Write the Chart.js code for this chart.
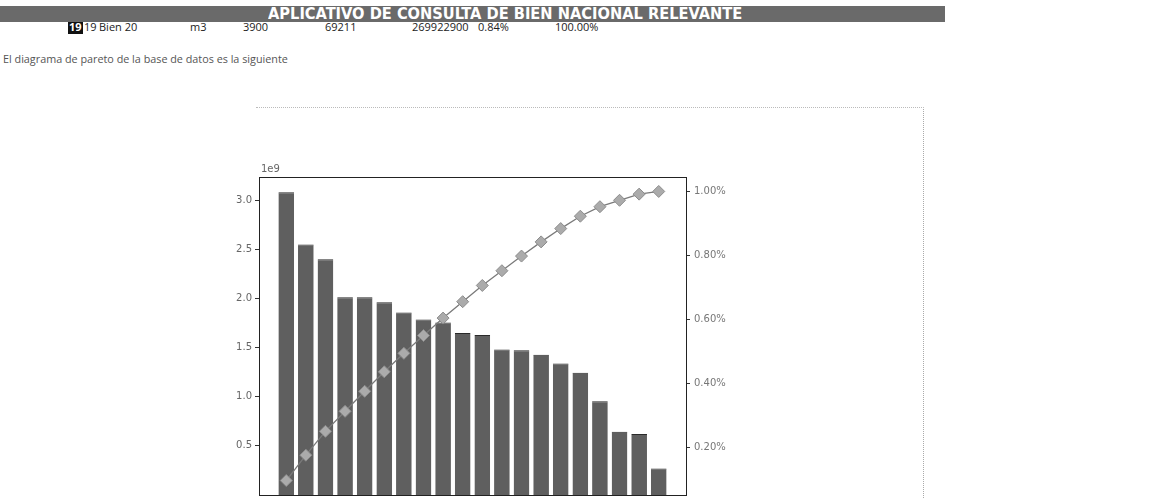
<!DOCTYPE html>
<html>
  <head>
    <meta charset="utf-8" />
    <title>Bien Nacional Relevante</title>
    <style>
      body {
        margin: 0;
        width: 1175px;
        height: 498px;
        overflow: hidden;
        background: #fff;
        font-family: "Open Sans", "Noto Sans", sans-serif;
        position: relative;
      }
      .barra {
        position: absolute;
        left: 0;
        top: 6px;
        width: 945px;
        height: 16px;
        background: #6a6a6a;
        z-index: 2;
      }
      .barra span {
        position: absolute;
        left: 268px;
        top: 0;
        line-height: 17px;
        color: #fff;
        font-family: "Liberation Sans Narrow", "DejaVu Sans Condensed", sans-serif;
        font-weight: bold;
        font-size: 15px;
        white-space: nowrap;
        transform-origin: left center;
      }
      .fila span {
        position: absolute;
        top: 19px;
        font-size: 11px;
        line-height: 15px;
        color: #222;
        white-space: nowrap;
      }
      .fila .idx {
        background: #111;
        color: #fff;
        font-weight: bold;
        padding: 0 1px;
      }
      .texto {
        position: absolute;
        left: 3px;
        top: 51px;
        font-size: 10.8px;
        color: #555;
        white-space: nowrap;
      }
      .marco {
        position: absolute;
        left: 256px;
        top: 107px;
        width: 667px;
        height: 400px;
        border-top: 1px dotted #bbb;
        border-right: 1px dotted #aaa;
      }
      #pareto {
        position: absolute;
        left: 200px;
        top: 150px;
      }
    </style>
  </head>
  <body>
    <div class="barra"><span id="titulo">APLICATIVO DE CONSULTA DE BIEN NACIONAL RELEVANTE</span></div>
    <div class="fila">
      <span class="idx" style="left: 68px">19</span>
      <span style="left: 84px">19</span>
      <span style="left: 99px">Bien 20</span>
      <span style="left: 190px">m3</span>
      <span style="left: 243px">3900</span>
      <span style="left: 325px">69211</span>
      <span style="left: 412px">269922900</span>
      <span style="left: 478px">0.84%</span>
      <span style="left: 555px">100.00%</span>
    </div>
    <div class="texto">El diagrama de pareto de la base de datos es la siguiente</div>
    <div class="marco"></div>
    <canvas id="pareto" width="580" height="360"></canvas>

    <script src="https://cdn.jsdelivr.net/npm/chart.js"></script>
    <script>
      // Bienes ordenados de mayor a menor valor total (cantidad x precio)
      var bienes = [
        "Bien 1", "Bien 2", "Bien 3", "Bien 4", "Bien 5",
        "Bien 6", "Bien 7", "Bien 8", "Bien 9", "Bien 10",
        "Bien 11", "Bien 12", "Bien 13", "Bien 14", "Bien 15",
        "Bien 16", "Bien 17", "Bien 18", "Bien 19", "Bien 20",
      ];

      var valorTotal = [
        3.082e9, 2.548e9, 2.398e9, 2.012e9, 2.012e9,
        1.961e9, 1.857e9, 1.786e9, 1.755e9, 1.649e9,
        1.629e9, 1.481e9, 1.474e9, 1.426e9, 1.338e9,
        1.243e9, 0.955e9, 0.643e9, 0.62e9, 269922900,
      ];

      // Porcentaje acumulado (fraccion 0-1)
      var acumulado = [
        0.0959, 0.1752, 0.2498, 0.3124, 0.375,
        0.436, 0.4938, 0.5494, 0.604, 0.6553,
        0.706, 0.7521, 0.7979, 0.8423, 0.8839,
        0.9226, 0.9523, 0.9723, 0.9916, 1.0,
      ];

      var ticksValor = [0.5e9, 1.0e9, 1.5e9, 2.0e9, 2.5e9, 3.0e9];
      var ticksAcum = [0.2, 0.4, 0.6, 0.8, 1.0];

      // ajustar el titulo al ancho de la barra
      var titulo = document.getElementById("titulo");
      titulo.style.transform = "scaleX(" + 474 / titulo.offsetWidth + ")";

      // margenes al estilo matplotlib
      var maxValor = Math.max.apply(null, valorTotal) * 1.05;
      var minAcum = acumulado[0] - 0.05 * (1 - acumulado[0]);
      var maxAcum = 1 + 0.05 * (1 - acumulado[0]);
      var n = bienes.length;
      var margenX = 0.05 * (n - 1 + 0.8);

      var fuente = { family: "DejaVu Sans", size: 10 };

      var marco = {
        id: "marco",
        afterDraw: function (chart) {
          var ctx = chart.ctx;
          var a = chart.chartArea;
          ctx.save();
          ctx.strokeStyle = "#222";
          ctx.lineWidth = 1;
          ctx.strokeRect(a.left + 0.5, a.top + 0.5, a.right - a.left, a.bottom - a.top);
          ctx.fillStyle = "#666";
          ctx.font = "10px 'DejaVu Sans'";
          ctx.textBaseline = "bottom";
          ctx.fillText("1e9", a.left + 2, a.top - 3);
          ctx.restore();
        },
      };

      new Chart(document.getElementById("pareto"), {
        type: "bar",
        data: {
          datasets: [
            {
              type: "line",
              label: "Acumulado",
              data: acumulado.map(function (v, i) {
                return { x: i, y: v };
              }),
              yAxisID: "y1",
              borderColor: "#7a7a7a",
              borderWidth: 1.3,
              pointStyle: "rectRot",
              pointRadius: 6,
              pointBackgroundColor: "#ababab",
              pointBorderColor: "#8c8c8c",
              pointBorderWidth: 1,
              order: 0,
            },
            {
              label: "Valor total",
              data: valorTotal.map(function (v, i) {
                return { x: i, y: v };
              }),
              yAxisID: "y",
              backgroundColor: "#5f5f5f",
              borderColor: "#2a2a2a",
              borderWidth: { top: 1, left: 0, right: 0, bottom: 0 },
              barPercentage: 0.8,
              categoryPercentage: 1.0,
              order: 1,
            },
          ],
        },
        options: {
          responsive: false,
          animation: false,
          layout: { padding: { top: 27, left: 0, right: 0, bottom: 0 } },
          plugins: { legend: { display: false }, tooltip: { enabled: false } },
          scales: {
            x: {
              type: "linear",
              offset: false,
              min: -0.4 - margenX,
              max: n - 1 + 0.4 + margenX,
              ticks: { display: false },
              grid: { display: false },
              border: { display: false },
              afterFit: function (axis) {
                axis.height = 15;
              },
            },
            y: {
              position: "left",
              min: 0,
              max: maxValor,
              afterBuildTicks: function (axis) {
                axis.ticks = ticksValor.map(function (v) {
                  return { value: v };
                });
              },
              ticks: {
                font: fuente,
                color: "#666",
                padding: 3,
                callback: function (v) {
                  return (v / 1e9).toFixed(1);
                },
              },
              grid: {
                drawOnChartArea: false,
                drawTicks: true,
                tickLength: 4,
                color: "#333",
              },
              border: { display: false },
              afterFit: function (axis) {
                axis.width = 59;
              },
            },
            y1: {
              position: "right",
              min: minAcum,
              max: maxAcum,
              afterBuildTicks: function (axis) {
                axis.ticks = ticksAcum.map(function (v) {
                  return { value: v };
                });
              },
              ticks: {
                font: fuente,
                color: "#777",
                padding: 4,
                callback: function (v) {
                  return v.toFixed(2) + "%";
                },
              },
              grid: {
                drawOnChartArea: false,
                drawTicks: true,
                tickLength: 4,
                color: "#333",
              },
              border: { display: false },
              afterFit: function (axis) {
                axis.width = 94;
              },
            },
          },
        },
        plugins: [marco],
      });
    </script>
  </body>
</html>
